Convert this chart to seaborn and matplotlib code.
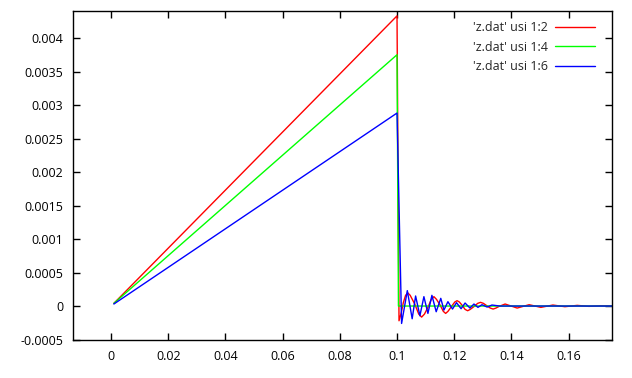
import pandas as pd
import seaborn as sns
import matplotlib.pyplot as plt
from matplotlib.ticker import MultipleLocator, FuncFormatter

# values
red_x = [0.001, 0.1, 0.1007, 0.1015, 0.1022, 0.103, 0.1038, 0.1046, 0.1062, 0.1076, 0.1086,
         0.1096, 0.1108, 0.112, 0.1129, 0.1138, 0.115, 0.1162, 0.117, 0.1178, 0.119, 0.1202,
         0.121, 0.1218, 0.1228, 0.1238, 0.1247, 0.1256, 0.127, 0.1282, 0.1292, 0.1302, 0.1314,
         0.1326, 0.1336, 0.1346, 0.1357, 0.1378, 0.142, 0.1462, 0.1503, 0.1545, 0.1587, 0.163,
         0.1671, 0.1713, 0.176]
red_y = [0.00004, 0.00433, -0.00022, -0.0001, 0.00005, 0.00016, 0.000195, 0.00016, 0.00003,
         -0.00012, -0.000165, -0.00012, -0.00002, 0.0001, 0.00014, 0.0001, 0.00002, -0.00008,
         -0.00011, -0.00008, -0.00001, 0.00006, 0.00008, 0.00006, 0.00001, -0.00005, -0.00007,
         -0.00005, -0.000005, 0.00004, 0.000055, 0.00004, 0.000005, -0.00003, -0.000045,
         -0.00003, -0.000005, 0.00003, -0.00003, 0.00002, -0.00002, 0.000015, -0.00001,
         0.00001, -0.000005, 0.000004, 0.0]

green_x = [0.001, 0.1, 0.1005, 0.176]
green_y = [0.00004, 0.00375, 0.0, 0.0]

blue_x = [0.001, 0.1, 0.1016, 0.1036, 0.1053, 0.1065, 0.108, 0.1094, 0.1108, 0.1122, 0.1137,
          0.1153, 0.1164, 0.1178, 0.1194, 0.1208, 0.1224, 0.1238, 0.1255, 0.1269, 0.1283,
          0.1297, 0.1315, 0.1332, 0.136, 0.176]
blue_y = [0.00003, 0.00288, -0.00026, 0.00023, -0.00019, 0.00015, -0.000145, 0.00014, -0.00011,
          0.00016, -0.000085, 0.000115, -0.00006, 0.000065, -0.000045, 0.00005, -0.00004,
          0.000045, -0.00003, 0.00003, -0.00002, 0.00002, -0.000015, 0.000015, 0.0, 0.0]

labels = ["'z.dat' usi 1:2", "'z.dat' usi 1:4", "'z.dat' usi 1:6"]
colors = ["#ff0000", "#00ff00", "#0000ff"]

frames = []
for lab, xs, ys in zip(labels, [red_x, green_x, blue_x], [red_y, green_y, blue_y]):
    frames.append(pd.DataFrame({"x": xs, "y": ys, "serie": lab}))
veri = pd.concat(frames, ignore_index=True)

sns.set_style("ticks")
plt.rcParams["font.family"] = ["Open Sans", "DejaVu Sans"]
plt.rcParams["font.size"] = 9

fig = plt.figure(figsize=(6.32, 3.78), dpi=100)
ax = fig.add_axes([0.1155, 0.1005, 0.853, 0.8704])

sns.lineplot(data=veri, x="x", y="y", hue="serie", palette=colors, sort=False,
             estimator=None, linewidth=1, ax=ax)

ax.set_xlim(-0.01329, 0.1752)
ax.set_ylim(-0.000507, 0.004403)
ax.xaxis.set_major_locator(MultipleLocator(0.02))
ax.yaxis.set_major_locator(MultipleLocator(0.0005))
ax.xaxis.set_major_formatter(FuncFormatter(lambda v, p: "%g" % round(v, 6)))
ax.yaxis.set_major_formatter(FuncFormatter(lambda v, p: "%g" % round(v, 6)))
ax.tick_params(direction="in", length=5, width=1, top=True, right=True,
               labelsize=9, colors="black", pad=7)
for s in ax.spines.values():
    s.set_visible(True)
    s.set_linewidth(1)
    s.set_color("black")
ax.set_xlabel("")
ax.set_ylabel("")

ax.legend(loc="upper right", frameon=False, markerfirst=False, handlelength=3.2,
          handletextpad=0.6, fontsize=9, borderaxespad=0.3, labelspacing=0.5,
          bbox_to_anchor=(0.985, 0.995))

plt.savefig("out.png", dpi=100)
